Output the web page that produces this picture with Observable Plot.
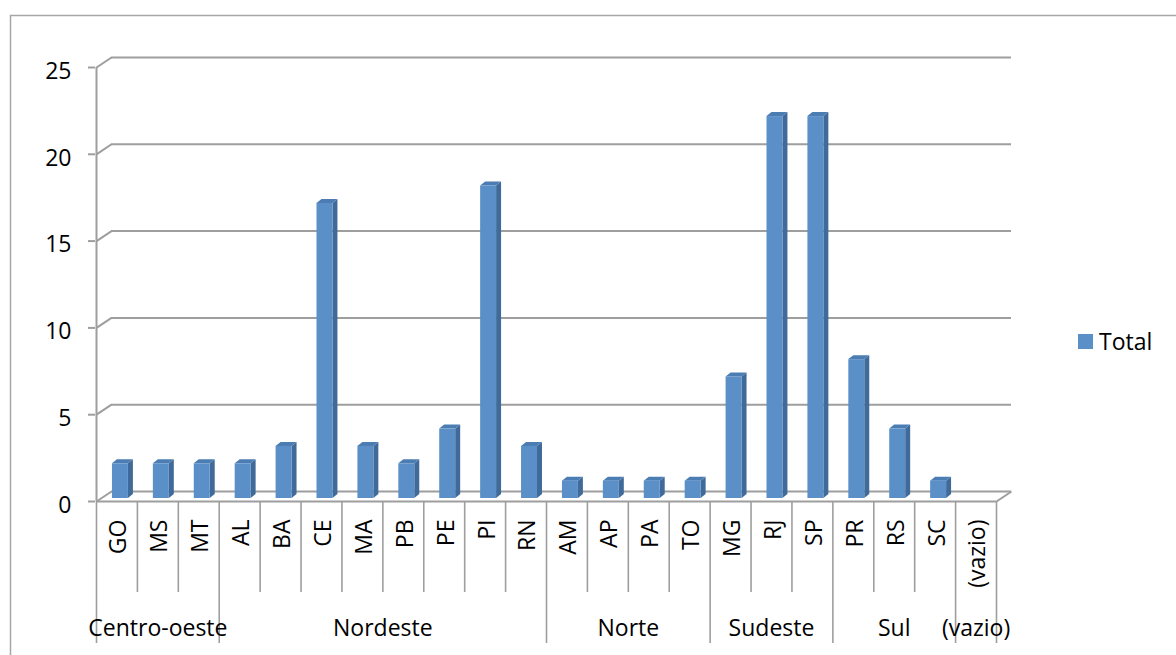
<!DOCTYPE html>
<html>
<head>
<meta charset="utf-8">
<script src="https://cdn.jsdelivr.net/npm/d3@7"></script>
<script src="https://cdn.jsdelivr.net/npm/@observablehq/plot@0.6"></script>
<style>
  html, body { margin: 0; padding: 0; background: #fff; }
  #wrap { position: relative; width: 1176px; height: 655px; overflow: hidden; }
  #legend { position: absolute; left: 1078px; top: 325px; display: flex; align-items: center;
            font-family: "Open Sans", sans-serif; font-size: 23px; color: #000; }
  #legend .sw { width: 15px; height: 15px; background: #5b8fc7; margin-right: 6px; }
</style>
</head>
<body>
<div id="wrap"><div id="chart"></div><div id="legend"><div class="sw"></div><span>Total</span></div></div>
<script>
// ---- data ----
const states  = ["GO","MS","MT","AL","BA","CE","MA","PB","PE","PI","RN","AM","AP","PA","TO","MG","RJ","SP","PR","RS","SC","(vazio)"];
const regionOf = ["Centro-oeste","Centro-oeste","Centro-oeste","Nordeste","Nordeste","Nordeste","Nordeste","Nordeste","Nordeste","Nordeste","Nordeste","Norte","Norte","Norte","Norte","Sudeste","Sudeste","Sudeste","Sul","Sul","Sul","(vazio)"];
const totals  = [2,2,2,2,3,17,3,2,4,18,3,1,1,1,1,7,22,22,8,4,1,0];
const regions = ["Centro-oeste","Nordeste","Norte","Sudeste","Sul","(vazio)"];
const yTicks  = [0,5,10,15,20,25];
const seriesName = "Total";

// ---- 3D geometry (in scale units) ----
const DEPTH_X = 0.367, DEPTH_Y = 0.577;   // back wall offset
const BX1 = 0.39, BX2 = 0.78;             // bar front face within column
const SX = 0.122, SY = 0.23;              // bar depth

const bars = states.map((s, i) => ({s, i, v: totals[i]})).filter(d => d.v > 0);
const sidePts = bars.flatMap(d => [
  {k: d.i, x: d.i + BX2, y1: 0, y2: d.v},
  {k: d.i, x: d.i + BX2 + SX, y1: SY, y2: d.v + SY}
]);
const topPts = bars.flatMap(d => [
  {k: d.i, x: d.i + BX1, y1: d.v, y2: d.v},
  {k: d.i, x: d.i + BX1 + SX, y1: d.v, y2: d.v + SY},
  {k: d.i, x: d.i + BX2, y1: d.v, y2: d.v + SY},
  {k: d.i, x: d.i + BX2 + SX, y1: d.v + SY, y2: d.v + SY}
]);

// group spans
const spans = regions.map(r => {
  const idx = regionOf.map((g, i) => g === r ? i : -1).filter(i => i >= 0);
  return {r, start: Math.min(...idx), end: Math.max(...idx) + 1};
});
const boundaries = Array.from(new Set(spans.flatMap(d => [d.start, d.end])));
const inner = d3.range(0, states.length + 1).filter(i => !boundaries.includes(i));

const GRID = "#9e9e9e";
const FONT = "Open Sans";
const FS = 23;

const chart = Plot.plot({
  width: 1176,
  height: 655,
  marginLeft: 96,
  marginRight: 180,
  marginTop: 67,
  marginBottom: 154,
  style: {fontFamily: FONT, fontSize: FS + "px", background: "white", color: "#000"},
  x: {type: "linear", domain: [0, states.length], axis: null},
  y: {type: "linear", domain: [0, 25], axis: null},
  marks: [
    // outer chart border
    Plot.frame({stroke: "#a6a6a6", strokeWidth: 1.5, insetLeft: -86, insetTop: -52, insetRight: -300, insetBottom: -300}),
    // back wall gridlines
    Plot.ruleY(yTicks, {y: d => d, x1: 0, x2: states.length, dx: 15, dy: -10, stroke: GRID, strokeWidth: 2}),
    // diagonals from axis to back wall
    Plot.link(yTicks, {x1: 0, y1: d => d, x2: DEPTH_X, y2: d => d + DEPTH_Y, stroke: GRID, strokeWidth: 2}),
    // floor right edge
    Plot.link([0], {x1: states.length, y1: 0, x2: states.length + DEPTH_X, y2: DEPTH_Y, stroke: GRID, strokeWidth: 2}),
    // front floor edge (category axis line)
    Plot.ruleY([0], {x1: 0, x2: states.length, stroke: GRID, strokeWidth: 2}),
    // value axis line
    Plot.ruleX([0], {y1: 0, y2: 25, stroke: GRID, strokeWidth: 2}),
    // value axis ticks
    Plot.ruleY(yTicks, {y: d => d, insetLeft: -8, insetRight: 901, stroke: GRID, strokeWidth: 2}),
    // value tick labels
    Plot.text(yTicks, {y: d => d, text: d => String(d), frameAnchor: "left", textAnchor: "end", dx: -25, dy: 4, fontSize: FS, fill: "#000"}),
    // category dividers
    Plot.ruleX(inner, {x: d => d, insetTop: 434, insetBottom: -91, stroke: GRID, strokeWidth: 1.6}),
    Plot.ruleX(boundaries, {x: d => d, insetTop: 434, insetBottom: -142, stroke: GRID, strokeWidth: 1.6}),
    // bars: side, top, front
    Plot.areaY(sidePts, {x: "x", y1: "y1", y2: "y2", z: "k", fill: "#3f6a99", dy: -3, curve: "linear"}),
    Plot.areaY(topPts, {x: "x", y1: "y1", y2: "y2", z: "k", fill: "#4b7db3", dy: -3, curve: "linear"}),
    Plot.rect(bars, {x1: d => d.i + BX1, x2: d => d.i + BX2, y1: 0, y2: "v", fill: "#5b8fc7", dy: -3}),
    // state labels (rotated)
    Plot.text(states, {x: (d, i) => i + 0.5, text: d => d, frameAnchor: "bottom", rotate: -90, textAnchor: "end", lineAnchor: "middle", dy: 18, dx: 2, fontSize: FS, fill: "#000"}),
    // region labels
    Plot.text(spans, {x: d => (d.start + d.end) / 2, text: "r", frameAnchor: "bottom", lineAnchor: "middle", dy: 127, fontSize: FS, fill: "#000"})
  ]
});
document.getElementById("chart").appendChild(chart);
document.querySelector("#legend span").textContent = seriesName;
</script>
</body>
</html>
